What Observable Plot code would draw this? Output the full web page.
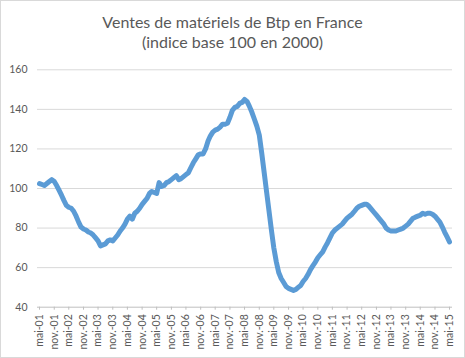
<!DOCTYPE html>
<html>
<head>
<meta charset="utf-8">
<script src="https://cdn.jsdelivr.net/npm/d3@7"></script>
<script src="https://cdn.jsdelivr.net/npm/@observablehq/plot@0.6"></script>
<style>
  html, body { margin: 0; padding: 0; background: #fff; }
  #wrap { position: relative; width: 465px; height: 358px; overflow: hidden; background: #fff; }
  #frame { position: absolute; left: 0; top: 0; width: 465px; height: 358px; box-sizing: border-box; border: 1px solid #d9d9d9; pointer-events: none; z-index: 2; }
  #title { height: 55px; box-sizing: border-box; padding-top: 12px; text-align: center; font-family: Lato, sans-serif; font-size: 16px; line-height: 20px; color: #595959; }
  #chart svg { display: block; }
</style>
</head>
<body>
<div id="wrap">
  <div id="title">Ventes de matériels de Btp en France<br>(indice base 100 en 2000)</div>
  <div id="chart"></div>
  <div id="frame"></div>
</div>
<script>
const titleLines = ["Ventes de matériels de Btp en France", "(indice base 100 en 2000)"];
const startYear = 2001, startMonth = 4; // mai 2001
const values = [
  102.5, 102, 101.5, 102.5, 103.5, 104.5, 103.5, 101.5, 99, 96.5, 94, 91.5,
  90.5, 90, 88.5, 86, 83, 80.5, 79.5, 79, 78, 77.5, 76.5, 75,
  73.5, 71, 71.5, 72, 73.5, 74, 73.5, 75, 76.5, 78.5, 80, 82,
  84.5, 86, 84.5, 87.5, 88.5, 90, 92, 93.5, 95, 97.5, 98.5, 98,
  97.5, 103, 101, 101.5, 103, 103.5, 104.5, 105.5, 106.5, 104.5, 105, 106,
  107, 108, 110.5, 113, 115, 117, 117.5, 117.5, 120, 124, 126.5, 128.5,
  129.5, 130, 131, 132.5, 132.5, 133, 136, 139.5, 141, 141.5, 143, 143.5,
  145, 144, 141.5, 138.5, 135, 131.5, 127, 118, 108, 98, 89, 79,
  70, 63, 57.5, 54.5, 52.5, 50.5, 49.5, 49, 48.5, 49, 50, 51,
  53, 54.5, 56.5, 59, 61, 62.8, 65, 66.5, 68, 70.5, 72.5, 75,
  77.5, 79, 80, 81, 82, 83.5, 85, 86, 87, 88.5, 90, 91,
  91.5, 92, 92, 91, 89.5, 88, 86.5, 85, 83.5, 82, 80, 79,
  78.5, 78.5, 78.5, 79, 79.5, 80, 81, 82, 83.5, 85, 85.5, 86,
  86.5, 87.5, 87, 87.5, 87.5, 87, 86, 84.5, 83, 80.5, 78, 75.5,
  73
];
const tickLabels = [
  "mai-01","nov.-01","mai-02","nov.-02","mai-03","nov.-03","mai-04","nov.-04",
  "mai-05","nov.-05","mai-06","nov.-06","mai-07","nov.-07","mai-08","nov.-08",
  "mai-09","nov.-09","mai-10","nov.-10","mai-11","nov.-11","mai-12","nov.-12",
  "mai-13","nov.-13","mai-14","nov.-14","mai-15"
];
const yTicks = [40, 60, 80, 100, 120, 140, 160];

const monthDate = (i) => new Date(Date.UTC(startYear, startMonth + i, 1));
const data = values.map((v, i) => ({date: monthDate(i), value: v}));
const tickDates = tickLabels.map((_, i) => monthDate(i * 6));
const labelByTime = new Map(tickDates.map((d, i) => [+d, tickLabels[i]]));

const chart = Plot.plot({
  width: 465,
  height: 303,
  marginLeft: 37,
  marginRight: 13,
  marginTop: 14.3,
  marginBottom: 51.3,
  style: {fontFamily: "Lato, sans-serif", background: "transparent"},
  x: {type: "utc", domain: [data[0].date, data[data.length - 1].date], insetLeft: 2, insetRight: 3},
  y: {domain: [40, 160]},
  marks: [
    Plot.gridY(yTicks.filter(t => t > 40), {stroke: "#d9d9d9", strokeOpacity: 1, strokeWidth: 1}),
    Plot.ruleY([40], {stroke: "#bfbfbf", strokeWidth: 1}),
    Plot.axisY(yTicks, {tickSize: 0, tickPadding: 10, fontSize: 10.5, fill: "#595959", label: null}),
    Plot.axisX(tickDates, {
      tickSize: 3, tickPadding: 4, tickRotate: -90, fontSize: 10.5,
      stroke: "#bfbfbf", fill: "#595959", label: null,
      tickFormat: (d) => labelByTime.get(+d)
    }),
    Plot.line(data, {x: "date", y: "value", stroke: "#5b9bd5", strokeWidth: 5, strokeLinejoin: "round", strokeLinecap: "round"})
  ]
});
document.getElementById("chart").appendChild(chart);
</script>
</body>
</html>
